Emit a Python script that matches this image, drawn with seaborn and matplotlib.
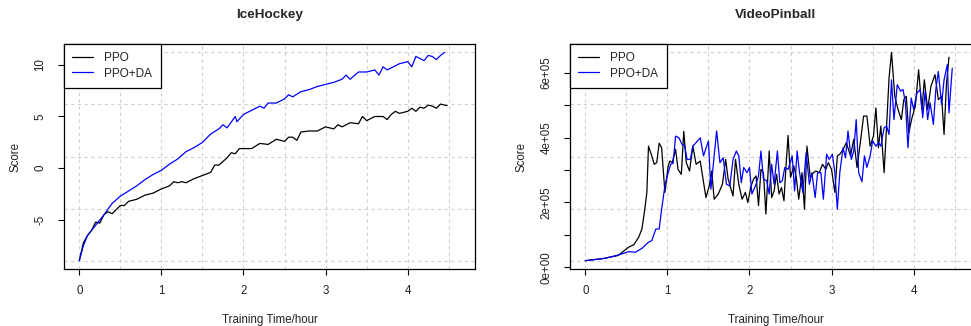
import numpy as np
import pandas as pd
import matplotlib
matplotlib.use("Agg")
import matplotlib.pyplot as plt
import seaborn as sns

# IceHockey
ice_ppo_x = [0, 0.05, 0.1, 0.15, 0.2, 0.25, 0.3, 0.35, 0.4, 0.45, 0.5, 0.55, 0.6, 0.7, 0.8,
             0.9, 1.0, 1.1, 1.15, 1.2, 1.25, 1.3, 1.4, 1.5, 1.6, 1.65, 1.7, 1.8, 1.85, 1.9,
             1.95, 2.0, 2.1, 2.2, 2.3, 2.4, 2.5, 2.55, 2.6, 2.65, 2.7, 2.8, 2.9, 3.0, 3.1,
             3.15, 3.2, 3.3, 3.4, 3.45, 3.5, 3.6, 3.7, 3.75, 3.8, 3.85, 3.9, 4.0, 4.05, 4.1,
             4.15, 4.2, 4.25, 4.3, 4.35, 4.4, 4.45, 4.48]
ice_ppo_y = [-8.93, -7.2, -6.5, -6.0, -5.2, -5.3, -4.5, -4.2, -4.4, -4.0, -3.6, -3.6, -3.2, -3.0, -2.6,
             -2.4, -2.0, -1.7, -1.3, -1.4, -1.3, -1.4, -1.0, -0.7, -0.4, 0.3, 0.3, 1.0, 1.5, 1.4,
             1.9, 1.9, 1.9, 2.4, 2.3, 2.8, 2.6, 3.0, 3.0, 2.7, 3.5, 3.6, 3.6, 4.0, 3.8,
             4.2, 4.0, 4.4, 4.3, 5.0, 4.6, 5.0, 5.0, 4.7, 5.2, 5.5, 5.3, 5.5, 5.8, 5.5,
             5.9, 5.8, 6.1, 6.0, 5.8, 6.2, 6.1, 6.05]
ice_da_x = [0, 0.05, 0.1, 0.2, 0.3, 0.4, 0.5, 0.6, 0.7, 0.8, 0.9, 1.0, 1.1, 1.2, 1.3, 1.4, 1.5,
            1.6, 1.7, 1.75, 1.8, 1.9, 1.92, 2.0, 2.1, 2.2, 2.25, 2.3, 2.4, 2.5, 2.55, 2.6, 2.7,
            2.8, 2.9, 3.0, 3.1, 3.2, 3.25, 3.3, 3.4, 3.5, 3.6, 3.65, 3.7, 3.75, 3.8, 3.9, 4.0,
            4.05, 4.1, 4.15, 4.2, 4.25, 4.3, 4.35, 4.4, 4.45]
ice_da_y = [-8.93, -7.5, -6.5, -5.5, -4.5, -3.4, -2.7, -2.2, -1.7, -1.1, -0.6, -0.2, 0.4, 0.9, 1.6, 2.0, 2.5,
            3.3, 3.8, 4.2, 3.9, 5.0, 4.5, 5.2, 5.6, 6.0, 5.8, 6.3, 6.3, 6.7, 7.1, 6.9, 7.4,
            7.6, 7.9, 8.1, 8.3, 8.6, 9.0, 8.6, 9.3, 9.3, 9.5, 9.0, 9.8, 9.5, 9.7, 10.1, 10.3,
            9.8, 10.8, 10.6, 10.4, 10.9, 10.8, 10.5, 10.9, 11.2]

# VideoPinball
vp_ppo_x = [0, 0.2, 0.4, 0.53, 0.59, 0.65, 0.69, 0.72, 0.75, 0.77, 0.81, 0.84, 0.87, 0.90, 0.93,
            0.97, 1.01, 1.03, 1.06, 1.10, 1.13, 1.17, 1.20, 1.23, 1.27, 1.31, 1.35, 1.40, 1.47,
            1.51, 1.54, 1.57, 1.62, 1.67, 1.71, 1.74, 1.80, 1.83, 1.87, 1.91, 1.95, 1.98, 2.02,
            2.05, 2.08, 2.11, 2.14, 2.17, 2.20, 2.24, 2.27, 2.30, 2.33, 2.36, 2.39, 2.42, 2.44,
            2.47, 2.50, 2.54, 2.57, 2.60, 2.64, 2.67, 2.70, 2.74, 2.78, 2.81, 2.85, 2.89, 2.93,
            2.96, 3.00, 3.04, 3.07, 3.10, 3.14, 3.18, 3.23, 3.27, 3.31, 3.35, 3.39, 3.43, 3.47,
            3.51, 3.54, 3.57, 3.60, 3.64, 3.67, 3.70, 3.73, 3.77, 3.81, 3.85, 3.88, 3.91, 3.94,
            3.98, 4.02, 4.06, 4.10, 4.13, 4.17, 4.21, 4.26, 4.30, 4.34, 4.37, 4.40, 4.43]
vp_ppo_y = [20000, 26000, 36000, 62000, 69000, 92000, 118000, 170000, 230000, 374000, 344000, 318000,
            323000, 383000, 369000, 231000, 313000, 328000, 323000, 364000, 302000, 287000, 420000,
            323000, 297000, 374000, 318000, 328000, 215000, 251000, 297000, 210000, 226000, 256000,
            333000, 272000, 220000, 333000, 256000, 210000, 231000, 200000, 251000, 272000, 282000,
            190000, 302000, 292000, 164000, 359000, 215000, 236000, 287000, 226000, 246000, 205000,
            292000, 407000, 277000, 313000, 277000, 210000, 292000, 179000, 374000, 277000, 292000,
            297000, 292000, 318000, 302000, 323000, 302000, 231000, 344000, 349000, 364000, 385000,
            344000, 395000, 308000, 385000, 467000, 467000, 374000, 405000, 492000, 369000, 436000,
            292000, 436000, 585000, 664000, 528000, 487000, 456000, 518000, 528000, 415000, 462000,
            497000, 610000, 487000, 579000, 487000, 559000, 595000, 518000, 528000, 410000, 569000,
            649000]
vp_da_x = [0, 0.24, 0.41, 0.53, 0.61, 0.69, 0.77, 0.81, 0.86, 0.90, 0.93, 0.97, 1.01, 1.04, 1.07,
           1.10, 1.14, 1.18, 1.21, 1.24, 1.28, 1.31, 1.35, 1.40, 1.44, 1.50, 1.53, 1.57, 1.60,
           1.64, 1.68, 1.72, 1.76, 1.80, 1.84, 1.87, 1.90, 1.93, 1.97, 2.00, 2.03, 2.08, 2.11,
           2.14, 2.17, 2.21, 2.24, 2.27, 2.30, 2.34, 2.37, 2.40, 2.43, 2.47, 2.52, 2.55, 2.58,
           2.61, 2.65, 2.69, 2.73, 2.76, 2.80, 2.83, 2.87, 2.90, 2.94, 2.97, 3.01, 3.04, 3.07,
           3.10, 3.14, 3.17, 3.20, 3.24, 3.27, 3.30, 3.33, 3.37, 3.40, 3.43, 3.47, 3.50, 3.54,
           3.57, 3.60, 3.64, 3.67, 3.70, 3.73, 3.76, 3.80, 3.84, 3.87, 3.90, 3.93, 3.97, 4.00,
           4.04, 4.08, 4.11, 4.14, 4.17, 4.20, 4.24, 4.27, 4.30, 4.34, 4.37, 4.41, 4.43, 4.47]
vp_da_y = [20000, 27000, 38000, 48000, 46000, 58000, 77000, 82000, 118000, 118000, 179000, 251000,
           292000, 318000, 321000, 405000, 400000, 379000, 376000, 333000, 333000, 374000, 385000,
           400000, 344000, 390000, 241000, 344000, 421000, 323000, 338000, 256000, 251000, 333000,
           359000, 344000, 261000, 308000, 292000, 308000, 226000, 256000, 282000, 359000, 272000,
           267000, 226000, 318000, 256000, 359000, 261000, 267000, 308000, 302000, 344000, 236000,
           359000, 292000, 231000, 354000, 256000, 292000, 215000, 292000, 292000, 210000, 349000,
           333000, 349000, 292000, 179000, 292000, 369000, 338000, 421000, 333000, 359000, 456000,
           292000, 264000, 344000, 308000, 344000, 390000, 374000, 385000, 374000, 431000, 436000,
           410000, 579000, 456000, 564000, 544000, 549000, 508000, 369000, 523000, 487000, 538000,
           549000, 462000, 544000, 456000, 508000, 441000, 549000, 605000, 503000, 579000, 626000,
           477000, 615000]

x_ticks = [0, 1, 2, 3, 4]
ice_yticks = [-5, 0, 5, 10]
vp_yticks = [0, 1e5, 2e5, 3e5, 4e5, 5e5, 6e5]
vp_yticklabels = ["0e+00", "", "2e+05", "", "4e+05", "", "6e+05"]

sns.set_theme(style="white")
plt.rcParams["font.family"] = ["Liberation Sans", "DejaVu Sans"]
plt.rcParams["axes.linewidth"] = 0.8

fig = plt.figure(figsize=(9.71, 3.26), dpi=100)
W, H = 971, 326
ax1 = fig.add_axes([64 / W, (H - 269) / H, 411 / W, 225 / H])
ax2 = fig.add_axes([570 / W, (H - 269) / H, 411 / W, 225 / H])

palette = {"PPO": "black", "PPO+DA": "#0000ff"}


def make_df(px, py, dx, dy):
    a = pd.DataFrame({"time": px, "score": py, "method": "PPO"})
    b = pd.DataFrame({"time": dx, "score": dy, "method": "PPO+DA"})
    return pd.concat([a, b], ignore_index=True)


def draw(ax, df, title, yticks, yticklabels):
    sns.lineplot(data=df, x="time", y="score", hue="method", palette=palette,
                 estimator=None, sort=False, lw=0.9, ax=ax)
    ymin, ymax = df.score.min(), df.score.max()
    span = ymax - ymin
    ax.set_ylim(ymin - 0.04 * span, ymax + 0.04 * span)
    ax.set_xlim(-0.186, 4.82)
    # R-style grid(): dotted lines over the data range
    for gx in np.arange(0, 4.51, 0.5):
        ax.axvline(gx, color="#cfcfcf", lw=0.8, ls=(0, (3, 3)), zorder=0)
    for gy in np.linspace(ymin, ymax, 5):
        ax.axhline(gy, color="#cfcfcf", lw=0.8, ls=(0, (3, 3)), zorder=0)
    ax.set_xticks(x_ticks)
    ax.set_xticklabels([str(t) for t in x_ticks])
    ax.set_yticks(yticks)
    ax.set_yticklabels(yticklabels, rotation=90, va="center")
    ax.tick_params(axis="both", direction="out", length=4.5, width=0.8, color="black",
                   labelsize=8.3, labelcolor="#222222", bottom=True, left=True)
    ax.tick_params(axis="x", pad=7)
    ax.tick_params(axis="y", pad=8)
    for s in ax.spines.values():
        s.set_color("black")
        s.set_linewidth(0.9)
    ax.set_xlabel("Training Time/hour", fontsize=8.3, color="#222222")
    ax.xaxis.set_label_coords(0.5, -0.227)
    ax.xaxis.label.set_va("center")
    ax.set_ylabel("Score", fontsize=8.3, color="#222222")
    ax.yaxis.set_label_coords(-0.119, 0.5)
    ax.yaxis.label.set_va("center")
    ax.set_title(title, fontsize=9.7, fontweight="bold", y=1.129, va="center", pad=0)
    leg = ax.legend(loc="upper left", bbox_to_anchor=(0, 1), borderaxespad=0,
                    fancybox=False, framealpha=1, edgecolor="black", fontsize=8.5,
                    handlelength=1.8, handletextpad=0.95, labelspacing=0.3,
                    borderpad=0.68, title=None)
    leg.get_frame().set_linewidth(0.9)
    for t in leg.get_texts():
        t.set_color("#222222")


draw(ax1, make_df(ice_ppo_x, ice_ppo_y, ice_da_x, ice_da_y), "IceHockey",
     ice_yticks, [str(t) for t in ice_yticks])
draw(ax2, make_df(vp_ppo_x, vp_ppo_y, vp_da_x, vp_da_y), "VideoPinball",
     vp_yticks, vp_yticklabels)

fig.savefig("out.png", dpi=100)
